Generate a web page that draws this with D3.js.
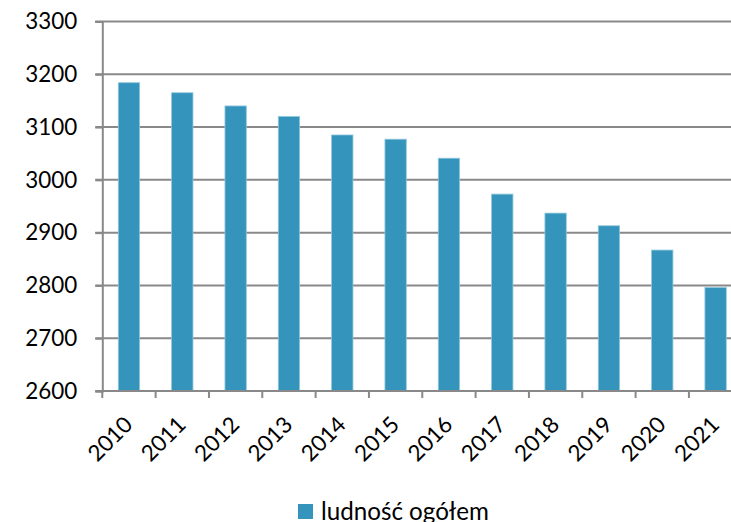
<!DOCTYPE html>
<html><head><meta charset="utf-8">
<script src="https://cdn.jsdelivr.net/npm/d3@7"></script>
<style>
html,body{margin:0;padding:0;background:#fff;}
svg{display:block;font-family:Lato, "Open Sans", sans-serif;}
</style></head>
<body>
<svg id="c" width="731" height="522"></svg>
<script>
const years = ["2010","2011","2012","2013","2014","2015","2016","2017","2018","2019","2020","2021"];
const population = [3184,3165,3140,3120,3085,3077,3041,2973,2937,2913,2867,2796];
const yTicks = [2600,2700,2800,2900,3000,3100,3200,3300];
const seriesName = "ludność ogółem";

(function(){
const svg = d3.select("#c");
const FONT = "Lato, sans-serif";
function fitSize(str, targetW){
  const t = svg.append("text").attr("font-family", FONT).attr("font-size", 100).text(str);
  const w = t.node().getComputedTextLength();
  t.remove();
  return 100 * targetW / w;
}
const tickFs = fitSize("2600", 52);
const legFs = fitSize(seriesName, 168);

const left = 102.3, plotTop = 21.5, bottom = 391, bandW = 53.33;
const x = d3.scaleBand().domain(years).range([left, left + bandW*years.length]).paddingInner(0.6).paddingOuter(0.3);
const y = d3.scaleLinear().domain([2600,3300]).range([bottom, plotTop]);
const gridCol = "#898989";

svg.append("g").selectAll("line").data(yTicks).join("line")
  .attr("x1", left-7).attr("x2", 731)
  .attr("y1", d=>y(d)).attr("y2", d=>y(d))
  .attr("stroke", gridCol).attr("stroke-width", 2);

svg.append("g").selectAll("rect").data(years).join("rect")
  .attr("x", d=>x(d)).attr("width", x.bandwidth())
  .attr("y", (d,i)=>y(population[i])).attr("height", (d,i)=>bottom - y(population[i]))
  .attr("fill", "#3594BC").attr("stroke", "#8EC6DC").attr("stroke-width", 0.8);

const yAxis = svg.append("g").attr("transform", `translate(${left},0)`)
  .call(d3.axisLeft(y).tickValues(yTicks).tickSize(7).tickPadding(18).tickFormat(d3.format("d")));
yAxis.select(".domain").attr("stroke", gridCol).attr("stroke-width", 2);
yAxis.selectAll(".tick line").attr("stroke", gridCol).attr("stroke-width", 2);
yAxis.selectAll("text").attr("font-size", tickFs).attr("fill", "#000").attr("font-family", FONT);

const x2 = d3.scaleLinear().domain([0, years.length]).range([left, left + bandW*years.length]);
const xg = svg.append("g");
xg.append("line").attr("x1", left).attr("x2", 731).attr("y1", bottom).attr("y2", bottom)
  .attr("stroke", gridCol).attr("stroke-width", 2);
xg.selectAll("line.t").data(d3.range(years.length)).join("line").attr("class","t")
  .attr("x1", d=>x2(d)).attr("x2", d=>x2(d)).attr("y1", bottom).attr("y2", bottom+7)
  .attr("stroke", gridCol).attr("stroke-width", 2);
xg.selectAll("text").data(years).join("text")
  .attr("transform", d=>`translate(${x(d)+x.bandwidth()/2+5},${bottom+35}) rotate(-45)`)
  .attr("text-anchor", "end")
  .attr("font-size", tickFs).attr("font-family", FONT).attr("fill", "#000")
  .text(d=>d);

const lg = svg.append("g").attr("transform", "translate(298,504)");
lg.append("rect").attr("width", 15).attr("height", 15).attr("fill", "#3594BC");
lg.append("text").attr("x", 23).attr("y", 15.5).attr("font-size", legFs).attr("font-family", FONT).attr("fill", "#000").text(seriesName);
})();
</script>
</body></html>
